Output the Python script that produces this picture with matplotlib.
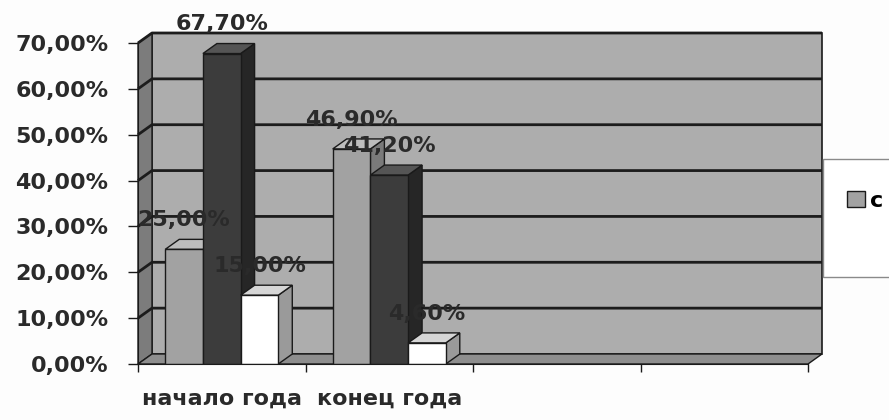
import matplotlib
matplotlib.use('Agg')
import matplotlib.pyplot as plt
from matplotlib.patches import Polygon, Rectangle
from matplotlib.ticker import FuncFormatter

# ---- data ----
categories = ['начало года', 'конец года']
series_gray = [0.25, 0.469]
series_dark = [0.677, 0.412]
series_white = [0.15, 0.046]
legend_labels = ['с']
y_ticks = [0.0, 0.1, 0.2, 0.3, 0.4, 0.5, 0.6, 0.7]
n_slots = 4

# ---- styling ----
W, H = 889, 420
fig = plt.figure(figsize=(W / 100, H / 100), dpi=100)
fig.patch.set_facecolor('#fdfdfd')
ax = fig.add_axes([138 / W, 56 / H, 670 / W, 321 / H])
ax.set_xlim(0, n_slots)
ax.set_ylim(0, 0.7)
ax.patch.set_visible(False)

pxx = n_slots / 670.0
pxy = 0.7 / 321.0
dx = 14 * pxx
dy = 10 * pxy
top = y_ticks[-1]
edge = '#1a1a1a'

# walls
ax.add_patch(Polygon([(dx, dy), (n_slots + dx, dy), (n_slots + dx, top + dy), (dx, top + dy)],
                     closed=True, fc='#adadad', ec=edge, lw=1.2, clip_on=False, zorder=0))
ax.add_patch(Polygon([(0, 0), (dx, dy), (dx, top + dy), (0, top)],
                     closed=True, fc='#7c7c7c', ec=edge, lw=1.0, clip_on=False, zorder=0.5))
ax.add_patch(Polygon([(0, 0), (n_slots, 0), (n_slots + dx, dy), (dx, dy)],
                     closed=True, fc='#8e8e8e', ec=edge, lw=1.0, clip_on=False, zorder=0.6))
for v in y_ticks[1:]:
    ax.plot([0, dx, n_slots + dx], [v, v + dy, v + dy], color='#1c1c1c', lw=2.0,
            clip_on=False, zorder=0.7, solid_capstyle='butt')

# bars
w = 0.225
series = [series_gray, series_dark, series_white]
front_c = ['#a2a2a2', '#3c3c3c', '#ffffff']
side_c = ['#7a7a7a', '#262626', '#9a9a9a']
top_c = ['#bdbdbd', '#555555', '#d6d6d6']
containers = []
for j, vals in enumerate(series):
    xs = [i + 0.5 + (j - 1) * w for i in range(len(vals))]
    cont = ax.bar(xs, vals, width=w, color=front_c[j], edgecolor=edge, lw=1.0)
    containers.append(cont)
    for i, (rect, v) in enumerate(zip(cont.patches, vals)):
        z = 2 + i * 3 + j
        rect.set_zorder(z + 0.2)
        x0 = rect.get_x()
        x1 = x0 + rect.get_width()
        ax.add_patch(Polygon([(x1, 0), (x1 + dx, dy), (x1 + dx, v + dy), (x1, v)], closed=True,
                             fc=side_c[j], ec=edge, lw=1.0, zorder=z, clip_on=False))
        ax.add_patch(Polygon([(x0, v), (x0 + dx, v + dy), (x1 + dx, v + dy), (x1, v)], closed=True,
                             fc=top_c[j], ec=edge, lw=1.0, zorder=z + 0.1, clip_on=False))
        ax.annotate(f'{v * 100:.2f}%'.replace('.', ','), xy=(x0 + w / 2, v), xytext=(0, 21),
                    textcoords='offset points', ha='center', va='center', fontsize=16,
                    fontweight='bold', color='#2a2a2a', zorder=30, annotation_clip=False)

# axes
for s in ['top', 'right']:
    ax.spines[s].set_visible(False)
ax.spines['left'].set_color(edge)
ax.spines['bottom'].set_color(edge)
ax.spines['left'].set_zorder(1)
ax.spines['bottom'].set_zorder(40)
ax.set_yticks(y_ticks)
ax.yaxis.set_major_formatter(FuncFormatter(lambda v, _: f'{v * 100:.2f}%'.replace('.', ',')))
ax.tick_params(axis='y', length=7.2, width=1, pad=14, labelsize=16, color=edge, labelcolor='#2a2a2a')
for lab in ax.get_yticklabels():
    lab.set_fontweight('bold')
ax.set_xticks([i + 0.5 for i in range(len(categories))], categories)
ax.set_xticks(range(n_slots + 1), minor=True)
ax.tick_params(axis='x', which='major', length=0, pad=18, labelsize=16, labelcolor='#2a2a2a')
ax.tick_params(axis='x', which='minor', length=6, width=1, color=edge)
for lab in ax.get_xticklabels():
    lab.set_fontweight('bold')

# legend
fig.patches.append(Rectangle((823 / W, (H - 277) / H), 0.2, 118 / H, transform=fig.transFigure,
                             fc='white', ec='#8a8a8a', lw=1.0, zorder=0))
fig.legend(handles=[containers[0]], labels=legend_labels, loc='center left',
           bbox_to_anchor=(836 / W, (H - 201) / H), frameon=False, borderpad=0,
           handlelength=0.82, handleheight=0.75, handletextpad=0.2,
           prop={'size': 16, 'weight': 'bold'})

fig.savefig('out.png', dpi=100, facecolor=fig.get_facecolor())
